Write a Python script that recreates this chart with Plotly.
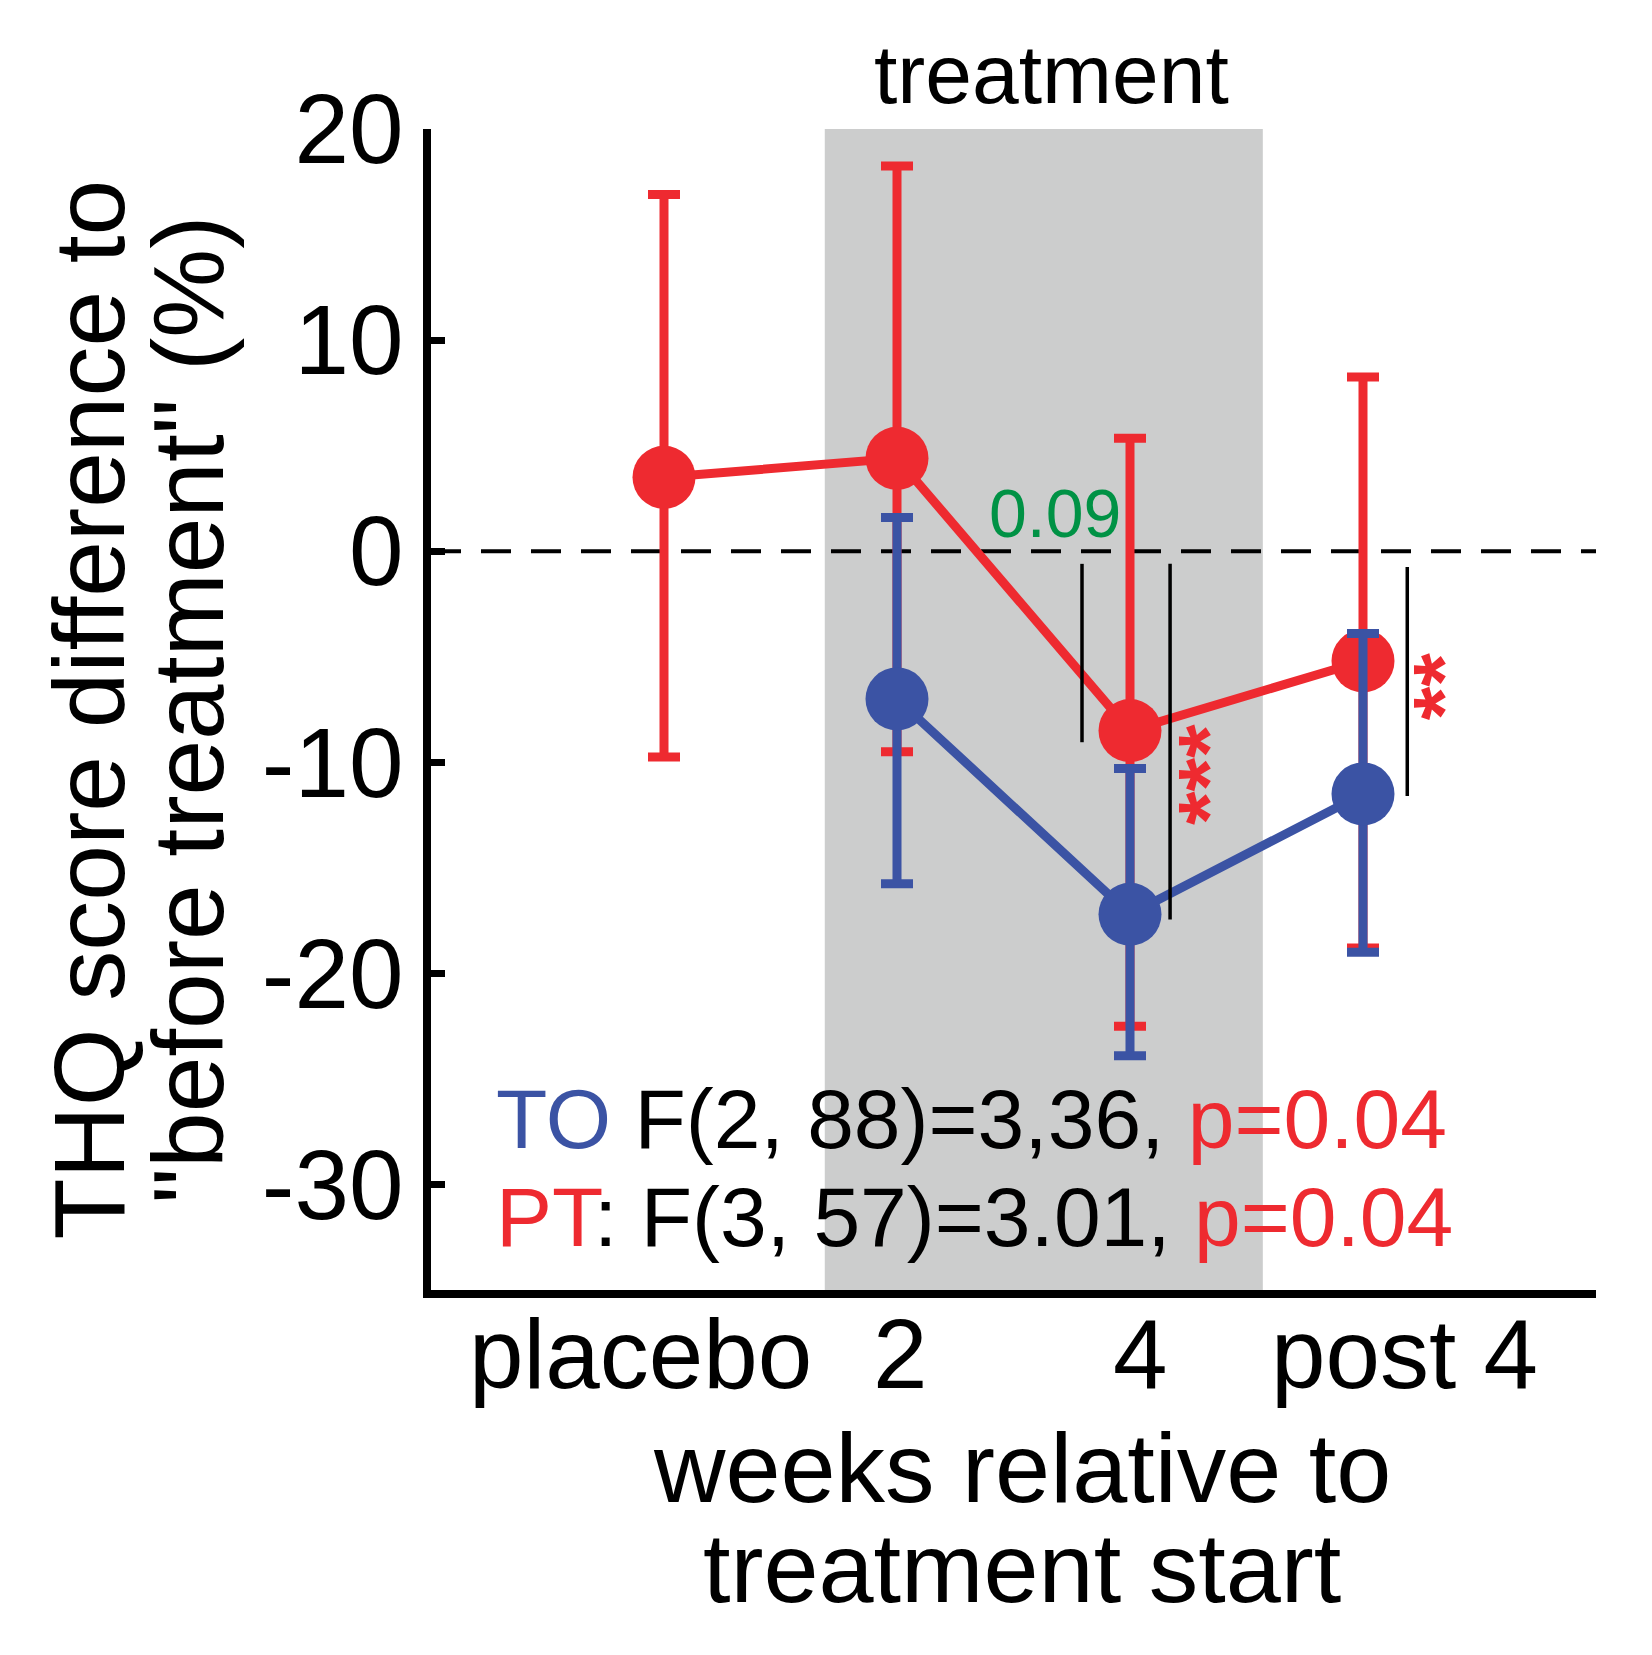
import plotly.graph_objects as go

# values
x_labels = ["placebo", "2", "4", "post 4"]
y_ticks = [20, 10, 0, -10, -20, -30]
y_tick_text = ["20", "10", "0", "-10", "-20", "-30"]

pt_x = [1, 2, 3, 4]
pt_mean = [3.5, 4.4, -8.5, -5.2]
pt_upper = [16.9, 18.25, 5.35, 8.25]
pt_lower = [-9.75, -9.5, -22.5, -18.8]

to_x = [2, 3, 4]
to_mean = [-7.0, -17.2, -11.5]
to_upper = [1.6, -10.3, -3.9]
to_lower = [-15.75, -23.9, -19.0]

# treatment window and significance brackets (x, y from, y to)
treat_span = [1.69, 3.57]
sig_lines = [(2.794, -0.6, -9.05), (3.172, -0.6, -17.45), (4.19, -0.75, -11.6)]

RED = "#EE2A30"
BLUE = "#3B53A4"
GREEN = "#009245"
GRAY = "#CCCDCD"
FONT = "Liberation Sans, Arial, sans-serif"


def err(upper, mean, lower):
    return (
        [u - m for u, m in zip(upper, mean)],
        [m - l for m, l in zip(mean, lower)],
    )


fig = go.Figure()

for xs, mean, up, lo, color in [
    (pt_x, pt_mean, pt_upper, pt_lower, RED),
    (to_x, to_mean, to_upper, to_lower, BLUE),
]:
    plus, minus = err(up, mean, lo)
    fig.add_trace(
        go.Scatter(
            x=xs,
            y=mean,
            mode="lines+markers",
            line=dict(color=color, width=9),
            marker=dict(color=color, size=63),
            error_y=dict(
                type="data",
                symmetric=False,
                array=plus,
                arrayminus=minus,
                color=color,
                thickness=9,
                width=16,
            ),
            cliponaxis=False,
            showlegend=False,
        )
    )

fig.add_shape(
    type="rect", xref="x", yref="y", x0=treat_span[0], x1=treat_span[1], y0=-35, y1=20,
    fillcolor=GRAY, line_width=0, layer="below",
)
fig.add_shape(
    type="line", xref="x", yref="y", x0=0, x1=5, y0=0, y1=0,
    line=dict(color="black", width=4, dash="30px,20px"), layer="below",
)
for sx, y0, y1 in sig_lines:
    fig.add_shape(
        type="line", xref="x", yref="y", x0=sx, x1=sx, y0=y0, y1=y1,
        line=dict(color="black", width=3.5),
    )

# stars and p-value
fig.add_annotation(x=3.335, y=-10.6, text="<b>***</b>", showarrow=False, textangle=-90,
                   font=dict(size=86, color=RED, family=FONT))
fig.add_annotation(x=4.343, y=-6.4, text="<b>**</b>", showarrow=False, textangle=-90,
                   font=dict(size=86, color=RED, family=FONT))
fig.add_annotation(x=2.678, y=1.8, text="0.09", showarrow=False,
                   font=dict(size=68, color=GREEN, family=FONT))
fig.add_annotation(x=2.665, y=1.0474, xref="x", yref="paper", yanchor="middle",
                   text="treatment", showarrow=False,
                   font=dict(size=84, color="black", family=FONT))

# statistics text
fig.add_annotation(
    x=0.27, y=-26.9, xanchor="left", showarrow=False,
    text=f"<span style='color:{BLUE}'>TO</span> F(2, 88)=3,36, <span style='color:{RED}'>p=0.04</span>",
    font=dict(size=84, color="black", family=FONT),
)
fig.add_annotation(
    x=0.27, y=-31.55, xanchor="left", showarrow=False,
    text=f"<span style='color:{RED}'>PT</span>: F(3, 57)=3.01, <span style='color:{RED}'>p=0.04</span>",
    font=dict(size=84, color="black", family=FONT),
)

# x tick labels, slightly off their ticks as in the original
label_shift = [-0.103, 0.013, 0.043, 0.18]
for xv, lab, dx in zip(pt_x, x_labels, label_shift):
    fig.add_annotation(x=xv + dx, y=-0.0551, xref="x", yref="paper", yanchor="middle",
                       text=lab, showarrow=False,
                       font=dict(size=98, color="black", family=FONT))

# axis titles as separate lines
for y, line in [(-0.1525, "weeks relative to"), (-0.2386, "treatment start")]:
    fig.add_annotation(x=0.507, y=y, xref="paper", yref="paper", xanchor="center",
                       yanchor="middle", text=line, showarrow=False,
                       font=dict(size=99, color="black", family=FONT))
for x, line in [(-0.2944, "THQ score difference to"), (-0.2086, "\"before treatment\" (%)")]:
    fig.add_annotation(x=x, y=0.5, xref="paper", yref="paper", xanchor="center",
                       yanchor="middle", text=line, textangle=-90, showarrow=False,
                       font=dict(size=100, color="black", family=FONT))

fig.update_xaxes(
    range=[0, 5],
    showticklabels=False,
    ticks="",
    showline=True,
    linewidth=8,
    linecolor="black",
    showgrid=False,
    zeroline=False,
)
fig.update_yaxes(
    range=[-35, 20],
    tickvals=y_ticks,
    ticktext=y_tick_text,
    ticks="inside",
    ticklen=14,
    tickwidth=7,
    tickcolor="black",
    showline=True,
    linewidth=8,
    linecolor="black",
    showgrid=False,
    zeroline=False,
    ticklabelstandoff=0,
    tickfont=dict(size=98, color="black", family=FONT),
)
# page body adds 8px, so the plot area is pulled up/left by that much
fig.update_layout(
    width=1652,
    height=1655,
    margin=dict(l=423, r=64, t=121, b=373),
    plot_bgcolor="white",
    paper_bgcolor="white",
    font=dict(family=FONT),
)

fig.write_html("out.html")
